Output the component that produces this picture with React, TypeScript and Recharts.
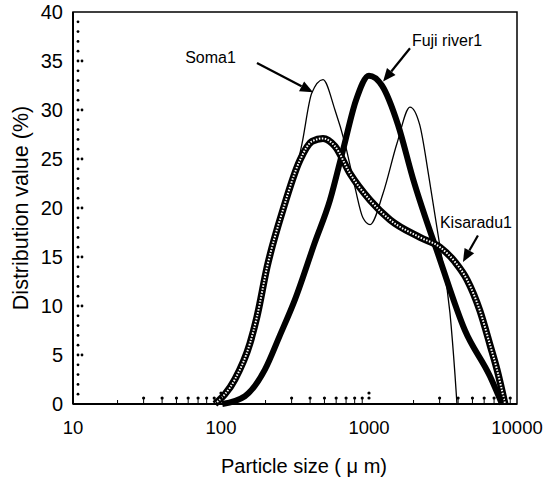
import {
  ComposedChart,
  Line,
  XAxis,
  YAxis,
  Label,
  ReferenceArea,
  ReferenceLine,
  ReferenceDot,
} from "recharts";

const FONT = '"Liberation Sans", Arial, Helvetica, sans-serif';

// particle size (um) / distribution value (%)
const fujiSizes = [102, 145, 198, 250, 315, 431, 545, 667, 817, 1000, 1223, 1570, 1982, 3020, 4454, 6580, 7920];
const fujiValues = [0, 0.8, 3.5, 7, 10.6, 16.5, 20.8, 25.9, 31, 33.5, 32.5, 28.5, 23, 14.7, 7.5, 2.8, 0];

const somaSizes = [91, 124, 157, 175, 205, 262, 326, 353, 410, 489, 589, 688, 804, 910, 1016, 1245, 1546, 1892, 2200, 2550, 3020, 3524, 3810, 3930];
const somaValues = [0, 2.5, 6.2, 8.9, 14, 19.8, 24.2, 26.6, 31.7, 33.1, 30, 26.6, 22.1, 19, 18.3, 21.5, 26.6, 30.3, 28.5, 23, 16, 9.3, 3, 0];

const kisaraduSizes = [91, 124, 157, 175, 205, 262, 342, 412, 489, 589, 745, 1016, 1386, 2212, 3020, 3810, 4590, 5620, 6580, 7330, 8300];
const kisaraduValues = [0, 2.5, 6.2, 8.9, 14, 19.8, 24.9, 26.8, 27.1, 26.3, 23.5, 20.8, 18.8, 17, 16, 14.5, 12.7, 9.5, 6, 3.5, 0];

const xTicks = [10, 20, 30, 40, 50, 60, 70, 80, 90, 100, 200, 300, 400, 500, 600, 700, 800, 900, 1000, 2000, 3000, 4000, 5000, 6000, 7000, 8000, 9000, 10000];
const xLabelTicks = [10, 100, 1000, 10000];
const yTicks = Array.from({ length: 41 }, (_, i) => i);

const zip = (xs: number[], vs: number[]) => xs.map((x, i) => ({ x, v: vs[i] }));
const fuji = zip(fujiSizes, fujiValues);
const soma = zip(somaSizes, somaValues);
const kisaradu = zip(kisaraduSizes, kisaraduValues);

const YTick = ({ x, y, payload }: any) => {
  const v = payload.value;
  const ax = x + 10;
  const major = v % 5 === 0;
  const inner = v > 0 && v < 40;
  return (
    <g>
      {inner && <circle cx={ax + 5} cy={y} r={1.4} fill="#000" />}
      {major && inner && <circle cx={ax + 9} cy={y} r={1.4} fill="#000" />}
      {major && (
        <text x={x} y={y} textAnchor="end" dominantBaseline="central" fontSize={20} fontFamily={FONT} fill="#000">
          {v}
        </text>
      )}
    </g>
  );
};

const XTick = ({ x, y, payload }: any) => {
  const v = payload.value;
  const ay = y - 16;
  const lead = v / Math.pow(10, Math.floor(Math.log10(v) + 1e-9));
  const isLabel = xLabelTicks.includes(v);
  const inner = isLabel && v > 10 && v < 10000;
  return (
    <g>
      {lead >= 3 && <line x1={x} x2={x} y1={ay} y2={ay - 6} stroke="#000" strokeWidth={1} />}
      {lead >= 3 && <circle cx={x} cy={ay - 6} r={1.6} fill="#000" />}
      {lead === 2 && <line x1={x} x2={x} y1={ay} y2={ay - 4} stroke="#000" strokeWidth={1} />}
      {inner && <circle cx={x} cy={ay - 6} r={1.6} fill="#000" />}
      {inner && <circle cx={x} cy={ay - 11} r={1.6} fill="#000" />}
      {isLabel && (
        <text x={x} y={y} textAnchor="middle" dominantBaseline="hanging" fontSize={18.5} fontFamily={FONT} fill="#000">
          {v}
        </text>
      )}
    </g>
  );
};

const Arrow = ({ x1, y1, x2, y2 }: any) => {
  const a = Math.atan2(y2 - y1, x2 - x1);
  const len = 13;
  const w = 5.5;
  const bx = x2 - len * Math.cos(a);
  const by = y2 - len * Math.sin(a);
  const px = -Math.sin(a) * w;
  const py = Math.cos(a) * w;
  return (
    <g>
      <line x1={x1} y1={y1} x2={bx} y2={by} stroke="#000" strokeWidth={2.2} />
      <polygon points={`${x2},${y2} ${bx + px},${by + py} ${bx - px},${by - py}`} fill="#000" />
    </g>
  );
};

const tag = (text: string) => ({ cx, cy }: any) => (
  <text x={cx} y={cy} textAnchor="middle" dominantBaseline="central" fontSize={16} fontFamily={FONT} fill="#000">
    {text}
  </text>
);

export default function App() {
  return (
    <div style={{ position: "absolute", left: 0, top: 0, background: "#fff" }}>
      <ComposedChart width={555} height={479} margin={{ top: 12, right: 38, bottom: 0, left: 0 }}>
        <XAxis
          dataKey="x"
          type="number"
          scale="log"
          domain={[10, 10000]}
          ticks={xTicks}
          interval={0}
          allowDataOverflow
          height={75}
          tickSize={0}
          tickMargin={16}
          tick={<XTick />}
          axisLine={{ stroke: "#000", strokeWidth: 2 }}
          tickLine={false}
        >
          <Label
            value="Particle size ( μ m)"
            position="insideBottom"
            offset={6}
            dx={9}
            style={{ fontSize: 20, fontFamily: FONT, fill: "#000" }}
          />
        </XAxis>
        <YAxis
          type="number"
          domain={[0, 40]}
          ticks={yTicks}
          interval={0}
          width={73}
          tickSize={0}
          tickMargin={10}
          tick={<YTick />}
          axisLine={{ stroke: "#000", strokeWidth: 2 }}
          tickLine={false}
        >
          <Label
            value="Distribution value (%)"
            angle={-90}
            position="insideLeft"
            offset={20}
            style={{ fontSize: 21.5, fontFamily: FONT, fill: "#000", textAnchor: "middle" }}
          />
        </YAxis>
        <ReferenceArea x1={10} x2={10000} y1={0} y2={40} fill="none" stroke="#000" strokeWidth={1.5} />
        <Line data={soma} dataKey="v" type="monotone" stroke="#000" strokeWidth={1.3} dot={false} activeDot={false} isAnimationActive={false} />
        <Line data={fuji} dataKey="v" type="monotone" stroke="#000" strokeWidth={6} dot={false} activeDot={false} isAnimationActive={false} />
        <Line data={kisaradu} dataKey="v" type="monotone" stroke="#000" strokeWidth={7} dot={false} activeDot={false} isAnimationActive={false} />
        <Line data={kisaradu} dataKey="v" type="monotone" stroke="#fff" strokeWidth={2} strokeDasharray="1.5 1.5" dot={false} activeDot={false} isAnimationActive={false} />
        <ReferenceLine segment={[{ x: 175, y: 34.8 }, { x: 419, y: 31.8 }]} shape={Arrow} />
        <ReferenceLine segment={[{ x: 1892, y: 36.3 }, { x: 1245, y: 32.9 }]} shape={Arrow} />
        <ReferenceLine segment={[{ x: 5445, y: 17.2 }, { x: 4315, y: 14.5 }]} shape={Arrow} />
        <ReferenceDot x={85} y={35.4} shape={tag("Soma1")} />
        <ReferenceDot x={3365} y={37.1} shape={tag("Fuji river1")} />
        <ReferenceDot x={5280} y={18.5} shape={tag("Kisaradu1")} />
      </ComposedChart>
    </div>
  );
}
